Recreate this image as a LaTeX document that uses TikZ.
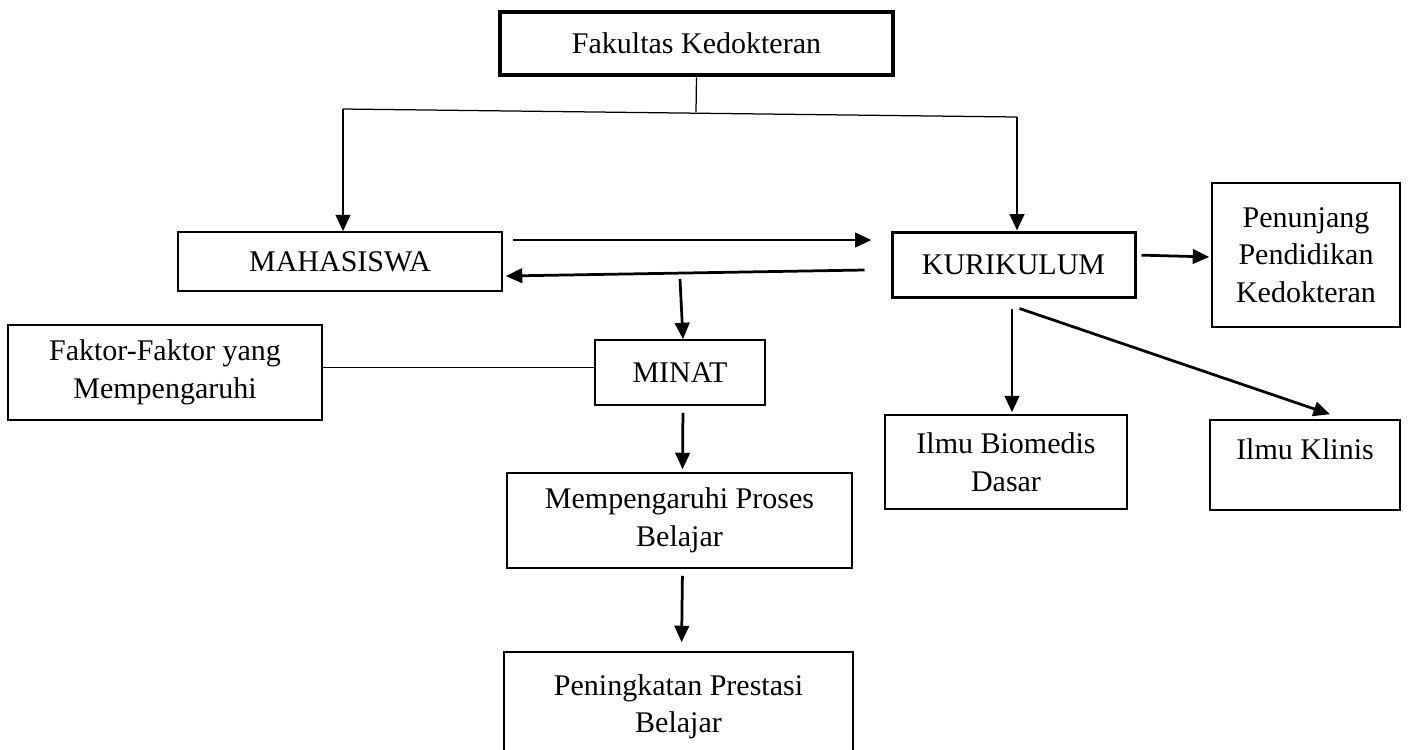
\documentclass[tikz,border=0pt]{standalone}
\usepackage{fontspec}
\setmainfont{Liberation Serif}
\usetikzlibrary{arrows.meta}
\newcommand\unitpx{0.4pt}

\begin{document}
\begin{tikzpicture}[x=0.4pt,y=-0.4pt,
    font=\fontsize{12}{15}\selectfont,
    kotak/.style={draw, line width=0.6pt, align=center, inner sep=0pt},
    panah/.style={-{Triangle[length=6.6pt,width=5.8pt]}, line width=1.1pt},
    garis/.style={line width=0.5pt}]
  \useasboundingbox (0,0) rectangle (1408,749);

  \node[kotak, line width=1.8pt, minimum width=393*\unitpx, minimum height=63*\unitpx] (fak) at (696.5,43.5) {Fakultas Kedokteran};
  \node[kotak, minimum width=324*\unitpx, minimum height=59*\unitpx] (mhs) at (340,261.5) {MAHASISWA};
  \node[kotak, line width=1.2pt, minimum width=243*\unitpx, minimum height=65*\unitpx] (kur) at (1013.5,264.5) {KURIKULUM};
  \node[kotak, minimum width=188*\unitpx, minimum height=144*\unitpx] (pen) at (1306,255) {Penunjang\\Pendidikan\\Kedokteran};
  \node[kotak, minimum width=170*\unitpx, minimum height=65*\unitpx] (minat) at (680,372.5) {MINAT};
  \node[kotak, minimum width=314*\unitpx, minimum height=95*\unitpx] (faktor) at (165,372.5) {Faktor-Faktor yang\\Mempengaruhi};
  \node[kotak, minimum width=345*\unitpx, minimum height=95*\unitpx] (proses) at (679.5,520.5) {Mempengaruhi Proses\\Belajar};
  \node[kotak, minimum width=349*\unitpx, minimum height=110*\unitpx] (prestasi) at (678.5,707) {Peningkatan Prestasi\\Belajar};
  \node[kotak, minimum width=242*\unitpx, minimum height=94*\unitpx] (bio) at (1006,462) {Ilmu Biomedis\\Dasar};
  \node[kotak, minimum width=190*\unitpx, minimum height=90*\unitpx] (klinis) at (1305,465) {Ilmu Klinis\\[-7pt]\strut};

  % cabang dari fakultas
  \coordinate (jm) at (696,112);
  \coordinate (jl) at (343,109);
  \coordinate (jr) at (1017,117);
  \coordinate (mulai) at (680,279);
  \draw[garis] (fak.south) -- (jm);
  \draw[garis] (jl) -- (jr);
  \draw[panah] (jl) -- (jl |- mhs.north);
  \draw[panah] (jr) -- (jr |- kur.north);

  \draw[panah] ([shift={(10,-21.5)}]mhs.east) -- ([shift={(-19,-24.5)}]kur.west);
  \draw[panah] ([shift={(-26,5.5)}]kur.west) -- ([shift={(3,14.5)}]mhs.east);
  \draw[panah] (mulai) -- ([xshift=3*\unitpx]minat.north);
  \draw[garis] ([yshift=5*\unitpx]faktor.east) -- ([yshift=5*\unitpx]minat.west);
  \draw[panah, shorten <=7*\unitpx, shorten >=3*\unitpx] ([xshift=3*\unitpx]minat.south) -- ([xshift=3*\unitpx]proses.north);
  \draw[panah, shorten <=7*\unitpx, shorten >=9*\unitpx] ([xshift=3*\unitpx]proses.south) -- ([xshift=3*\unitpx]prestasi.north);

  \draw[panah, shorten <=5*\unitpx, shorten >=2*\unitpx] ([yshift=9.5*\unitpx]kur.east) -- ([yshift=-2*\unitpx]pen.west);
  \draw[panah, shorten <=10*\unitpx, shorten >=2*\unitpx] ([xshift=6*\unitpx]kur.south -| bio.north) -- ([xshift=6*\unitpx]bio.north);
  \draw[panah] ([shift={(6,10)}]kur.south) -- ([shift={(25,-5)}]klinis.north);
\end{tikzpicture}
\end{document}
